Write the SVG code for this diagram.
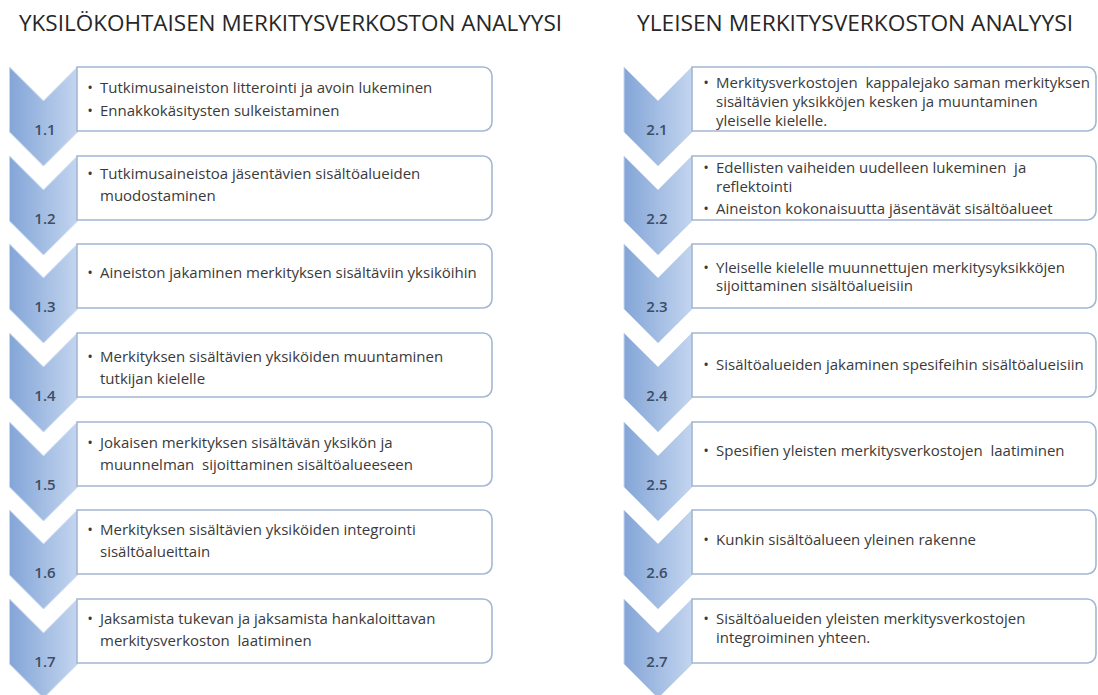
<svg xmlns="http://www.w3.org/2000/svg" xmlns:xlink="http://www.w3.org/1999/xlink" width="1098" height="695" viewBox="0 0 1098 695">
<defs>
<linearGradient id="cg" x1="0" y1="0" x2="1" y2="0">
<stop offset="0" stop-color="#83a5d7"/>
<stop offset="1" stop-color="#c3d5ef"/>
</linearGradient>
<path id="chev" d="M-34,0 L0,34 L34,0 L34,65 L0,99 L-34,65 Z"/>
<style>
.title{font-family:"Open Sans","Liberation Sans",sans-serif;font-size:22px;fill:#262626;}
.chev{fill:url(#cg);stroke:#c9d8ef;stroke-width:1;}
.box{fill:#ffffff;stroke:#a3b7d3;stroke-width:1.6;}
.lbl{font-family:"Open Sans","Liberation Sans",sans-serif;font-size:15px;font-weight:600;fill:#3d4d66;text-anchor:middle;}
.t{font-family:"Open Sans","Liberation Sans",sans-serif;font-size:15px;fill:#3a3a3a;}
.b{font-family:"Open Sans","Liberation Sans",sans-serif;font-size:15px;fill:#3a3a3a;text-anchor:middle;}
</style>
</defs>
<rect width="1098" height="695" fill="#ffffff"/>
<text class="title" x="19" y="31" textLength="543" lengthAdjust="spacingAndGlyphs">YKSILÖKOHTAISEN MERKITYSVERKOSTON ANALYYSI</text>
<text class="title" x="637" y="31" textLength="436" lengthAdjust="spacingAndGlyphs">YLEISEN MERKITYSVERKOSTON ANALYYSI</text>

<g id="node-1-1">
<use href="#chev" xlink:href="#chev" class="chev" transform="translate(43.5,67)"/>
<path class="box" d="M77,67 H483 A9,9 0 0 1 492,76 V122 A9,9 0 0 1 483,131 H77 Z"/>
<text class="lbl" x="45" y="135">1.1</text>
<text class="b" x="90" y="93">•</text><text class="t" x="100" y="93">Tutkimusaineiston litterointi ja avoin lukeminen</text>
<text class="b" x="90" y="116">•</text><text class="t" x="100" y="116">Ennakkokäsitysten sulkeistaminen</text>
</g>
<g id="node-1-2">
<use href="#chev" xlink:href="#chev" class="chev" transform="translate(43.5,156)"/>
<path class="box" d="M77,156 H483 A9,9 0 0 1 492,165 V211 A9,9 0 0 1 483,220 H77 Z"/>
<text class="lbl" x="45" y="224">1.2</text>
<text class="b" x="90" y="179">•</text><text class="t" x="100" y="179">Tutkimusaineistoa jäsentävien sisältöalueiden</text>
<text class="t" x="100" y="201">muodostaminen</text>
</g>
<g id="node-1-3">
<use href="#chev" xlink:href="#chev" class="chev" transform="translate(43.5,244)"/>
<path class="box" d="M77,244 H483 A9,9 0 0 1 492,253 V299 A9,9 0 0 1 483,308 H77 Z"/>
<text class="lbl" x="45" y="312">1.3</text>
<text class="b" x="90" y="278">•</text><text class="t" x="100" y="278">Aineiston jakaminen merkityksen sisältäviin yksiköihin</text>
</g>
<g id="node-1-4">
<use href="#chev" xlink:href="#chev" class="chev" transform="translate(43.5,333)"/>
<path class="box" d="M77,333 H483 A9,9 0 0 1 492,342 V388 A9,9 0 0 1 483,397 H77 Z"/>
<text class="lbl" x="45" y="401">1.4</text>
<text class="b" x="90" y="362">•</text><text class="t" x="100" y="362">Merkityksen sisältävien yksiköiden muuntaminen</text>
<text class="t" x="100" y="384">tutkijan kielelle</text>
</g>
<g id="node-1-5">
<use href="#chev" xlink:href="#chev" class="chev" transform="translate(43.5,422)"/>
<path class="box" d="M77,422 H483 A9,9 0 0 1 492,431 V477 A9,9 0 0 1 483,486 H77 Z"/>
<text class="lbl" x="45" y="490">1.5</text>
<text class="b" x="90" y="448">•</text><text class="t" x="100" y="448">Jokaisen merkityksen sisältävän yksikön ja</text>
<text class="t" x="100" y="470" xml:space="preserve">muunnelman  sijoittaminen sisältöalueeseen</text>
</g>
<g id="node-1-6">
<use href="#chev" xlink:href="#chev" class="chev" transform="translate(43.5,510)"/>
<path class="box" d="M77,510 H483 A9,9 0 0 1 492,519 V565 A9,9 0 0 1 483,574 H77 Z"/>
<text class="lbl" x="45" y="578">1.6</text>
<text class="b" x="90" y="535">•</text><text class="t" x="100" y="535">Merkityksen sisältävien yksiköiden integrointi</text>
<text class="t" x="100" y="557">sisältöalueittain</text>
</g>
<g id="node-1-7">
<use href="#chev" xlink:href="#chev" class="chev" transform="translate(43.5,599)"/>
<path class="box" d="M77,599 H483 A9,9 0 0 1 492,608 V654 A9,9 0 0 1 483,663 H77 Z"/>
<text class="lbl" x="45" y="667">1.7</text>
<text class="b" x="90" y="624">•</text><text class="t" x="100" y="624">Jaksamista tukevan ja jaksamista hankaloittavan</text>
<text class="t" x="100" y="646" xml:space="preserve">merkitysverkoston  laatiminen</text>
</g>

<g id="node-2-1">
<use href="#chev" xlink:href="#chev" class="chev" transform="translate(658,67)"/>
<path class="box" d="M692,67 H1087 A9,9 0 0 1 1096,76 V122 A9,9 0 0 1 1087,131 H692 Z"/>
<text class="lbl" x="657" y="135">2.1</text>
<text class="b" x="706" y="88">•</text><text class="t" x="716" y="88" xml:space="preserve">Merkitysverkostojen  kappalejako saman merkityksen</text>
<text class="t" x="716" y="107">sisältävien yksikköjen kesken ja muuntaminen</text>
<text class="t" x="716" y="126">yleiselle kielelle.</text>
</g>
<g id="node-2-2">
<use href="#chev" xlink:href="#chev" class="chev" transform="translate(658,156)"/>
<path class="box" d="M692,156 H1087 A9,9 0 0 1 1096,165 V211 A9,9 0 0 1 1087,220 H692 Z"/>
<text class="lbl" x="657" y="224">2.2</text>
<text class="b" x="706" y="173">•</text><text class="t" x="716" y="173" xml:space="preserve">Edellisten vaiheiden uudelleen lukeminen  ja</text>
<text class="t" x="716" y="192">reflektointi</text>
<text class="b" x="706" y="214">•</text><text class="t" x="716" y="214">Aineiston kokonaisuutta jäsentävät sisältöalueet</text>
</g>
<g id="node-2-3">
<use href="#chev" xlink:href="#chev" class="chev" transform="translate(658,244)"/>
<path class="box" d="M692,244 H1087 A9,9 0 0 1 1096,253 V299 A9,9 0 0 1 1087,308 H692 Z"/>
<text class="lbl" x="657" y="312">2.3</text>
<text class="b" x="706" y="273">•</text><text class="t" x="716" y="273">Yleiselle kielelle muunnettujen merkitysyksikköjen</text>
<text class="t" x="716" y="291">sijoittaminen sisältöalueisiin</text>
</g>
<g id="node-2-4">
<use href="#chev" xlink:href="#chev" class="chev" transform="translate(658,333)"/>
<path class="box" d="M692,333 H1087 A9,9 0 0 1 1096,342 V388 A9,9 0 0 1 1087,397 H692 Z"/>
<text class="lbl" x="657" y="401">2.4</text>
<text class="b" x="706" y="370">•</text><text class="t" x="716" y="370">Sisältöalueiden jakaminen spesifeihin sisältöalueisiin</text>
</g>
<g id="node-2-5">
<use href="#chev" xlink:href="#chev" class="chev" transform="translate(658,422)"/>
<path class="box" d="M692,422 H1087 A9,9 0 0 1 1096,431 V477 A9,9 0 0 1 1087,486 H692 Z"/>
<text class="lbl" x="657" y="490">2.5</text>
<text class="b" x="706" y="456">•</text><text class="t" x="716" y="456" xml:space="preserve">Spesifien yleisten merkitysverkostojen  laatiminen</text>
</g>
<g id="node-2-6">
<use href="#chev" xlink:href="#chev" class="chev" transform="translate(658,510)"/>
<path class="box" d="M692,510 H1087 A9,9 0 0 1 1096,519 V565 A9,9 0 0 1 1087,574 H692 Z"/>
<text class="lbl" x="657" y="578">2.6</text>
<text class="b" x="706" y="545">•</text><text class="t" x="716" y="545">Kunkin sisältöalueen yleinen rakenne</text>
</g>
<g id="node-2-7">
<use href="#chev" xlink:href="#chev" class="chev" transform="translate(658,599)"/>
<path class="box" d="M692,599 H1087 A9,9 0 0 1 1096,608 V654 A9,9 0 0 1 1087,663 H692 Z"/>
<text class="lbl" x="657" y="667">2.7</text>
<text class="b" x="706" y="624">•</text><text class="t" x="716" y="624">Sisältöalueiden yleisten merkitysverkostojen</text>
<text class="t" x="716" y="643">integroiminen yhteen.</text>
</g>
</svg>
